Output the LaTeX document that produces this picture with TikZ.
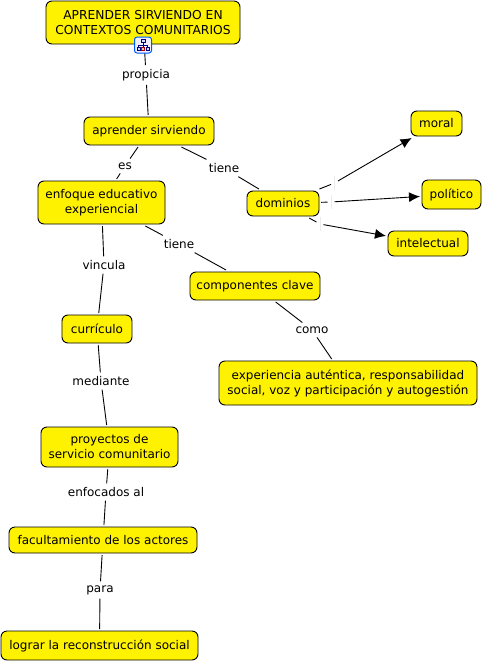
\documentclass[tikz,border=0pt]{standalone}
\usepackage{fontspec}
\setmainfont{DejaVu Sans}
\usetikzlibrary{arrows.meta}
\tikzset{
  box/.style={draw=black,line width=0.9pt,fill=yellow,rounded corners=6pt,align=center,font=\fontsize{12}{15}\selectfont,text=black,inner sep=0pt,outer sep=2pt},
  lab/.style={font=\fontsize{12}{14}\selectfont,text=black,inner xsep=3pt,inner ysep=4pt,outer sep=0pt},
  gapnode/.style={minimum width=7pt,minimum height=14pt,inner sep=0pt,outer sep=0pt},
  conn/.style={line width=0.9pt,draw=black},
  arr/.style={conn,-{Latex[length=11pt,width=10pt]}},
  faint/.style={line width=0.5pt,draw=black!8}
}
\begin{document}
\begin{tikzpicture}[x=1pt,y=-1pt]
\useasboundingbox (0,0) rectangle (483,662);
\node[box,minimum width=194pt,minimum height=43pt,font=\fontsize{12.3}{15}\selectfont] (root) at (143,22.5) {APRENDER SIRVIENDO EN\\CONTEXTOS COMUNITARIOS};
\node[box,minimum width=130pt,minimum height=28pt] (aprender) at (149,131) {aprender sirviendo};
\node[box,minimum width=127pt,minimum height=43pt] (enfoque) at (101.5,202.5) {enfoque educativo\\experiencial};
\node[box,minimum width=72pt,minimum height=25pt] (dominios) at (283,203.5) {dominios};
\node[box,minimum width=51pt,minimum height=25pt] (moral) at (436.5,123.5) {moral};
\node[box,minimum width=59pt,minimum height=29pt] (politico) at (451.5,194.5) {político};
\node[box,minimum width=80pt,minimum height=25pt] (intelectual) at (428,243.5) {intelectual};
\node[box,minimum width=130pt,minimum height=28pt] (componentes) at (255,286) {componentes clave};
\node[box,minimum width=258pt,minimum height=44pt] (experiencia) at (348,383) {experiencia auténtica, responsabilidad\\social, voz y participación y autogestión};
\node[box,minimum width=70pt,minimum height=28pt] (curriculo) at (97,329) {currículo};
\node[box,minimum width=137pt,minimum height=40pt] (proyectos) at (109.5,447) {proyectos de\\servicio comunitario};
\node[box,minimum width=188pt,minimum height=26pt] (facultamiento) at (103,540) {facultamiento de los actores};
\node[box,minimum width=197pt,minimum height=29pt] (lograr) at (99.5,645.5) {lograr la reconstrucción social};

\node[lab] (propicia) at (146,75) {propicia};
\node[lab] (es) at (125,166) {es};
\node[lab] (tieneA) at (224,168) {tiene};
\node[lab] (tieneB) at (179,244) {tiene};
\node[lab] (vincula) at (104,265) {vincula};
\node[lab] (mediante) at (101,381) {mediante};
\node[lab] (enfocados) at (106,492) {enfocados al};
\node[lab] (para) at (100,590) {para};
\node[lab] (como) at (312,330) {como};
\node[gapnode] (gapA) at (334.5,183) {};
\node[gapnode] (gapB) at (331,202) {};
\node[gapnode] (gapC) at (320,224) {};

\draw[conn] (root) -- (propicia);
\draw[conn] (propicia) -- (aprender);
\draw[conn] (aprender) -- (es);
\draw[conn] (es) -- (enfoque);
\draw[conn] (aprender) -- (tieneA);
\draw[conn] (tieneA) -- (dominios);
\draw[conn] (enfoque) -- (tieneB);
\draw[conn] (tieneB) -- (componentes);
\draw[conn] (componentes) -- (como);
\draw[conn] (como) -- (experiencia);
\draw[conn] (enfoque) -- (vincula);
\draw[conn] (vincula) -- (curriculo);
\draw[conn] (curriculo) -- (mediante);
\draw[conn] (mediante) -- (proyectos);
\draw[conn] (proyectos) -- (enfocados);
\draw[conn] (enfocados) -- (facultamiento);
\draw[conn] (facultamiento) -- (para);
\draw[conn] (para) -- (lograr);
\draw[conn] (dominios) -- (gapA);
\draw[arr] (gapA) -- (moral);
\draw[conn] (dominios) -- (gapB);
\draw[arr] (gapB) -- (politico);
\draw[conn] (dominios) -- (gapC);
\draw[arr] (gapC) -- (intelectual);
\draw[faint] (gapA.north) -- (gapA.south);
\draw[faint] (gapB.north) -- (gapB.south);
\draw[faint] (gapC.north) -- (gapC.south);

% concept-map icon on the root node
\draw[draw=blue!65!cyan,line width=1pt,fill=blue!6,rounded corners=2.5pt] (134.5,37) rectangle (151.5,53);
\draw[line width=0.6pt,draw=blue!50!black] (143,42) -- (143,47) (138.5,47.5) -- (138.5,45) -- (147.5,45) -- (147.5,47.5);
\draw[line width=0.7pt,draw=blue!50!black,fill=blue!15] (141,39) rectangle (145,42.5);
\draw[line width=0.7pt,draw=blue!50!black,fill=blue!15] (137,47) rectangle (140,50);
\draw[line width=0.7pt,draw=red!70!black,fill=orange!40] (141.5,47) rectangle (144.5,50);
\draw[line width=0.7pt,draw=blue!50!black,fill=blue!15] (146,47) rectangle (149,50);
\end{tikzpicture}
\end{document}
